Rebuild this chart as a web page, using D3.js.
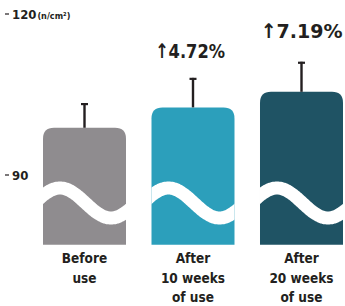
<!DOCTYPE html>
<html>
<head>
<meta charset="utf-8">
<script src="https://cdn.jsdelivr.net/npm/d3@7"></script>
<style>
  body { margin: 0; background: #fff; }
  text { font-family: "Liberation Sans Narrow", "DejaVu Sans Condensed", "Arial Narrow", sans-serif; font-weight: bold; fill: #231f20; }
</style>
</head>
<body>
<svg id="chart" width="345" height="306"></svg>
<script>
// chart values
const categories = ['before', 'week10', 'week20']
const labels = [['Before', 'use'], ['After', '10 weeks', 'of use'], ['After', '20 weeks', 'of use']]
const values = [98.8, 102.6, 105.5]
const errorTops = [103.4, 108.1, 111.1]
const increases = [null, '4.72%', '7.19%']
const colors = ['#8f8c8f', '#2c9fbb', '#1f5364']
const tickValues = [90, 120]
const baseValue = 77

const svg = d3.select('#chart')

const x = d3.scaleBand()
  .domain(categories)
  .range([43, 343])
  .paddingInner(0.235)
  .paddingOuter(0)

const y = d3.scaleLinear()
  .domain([90, 120])
  .range([175, 14])

// y axis ticks (only two)
const axis = svg.append('g')
tickValues.forEach(v => {
  axis.append('line')
    .attr('x1', 5).attr('x2', 9)
    .attr('y1', y(v)).attr('y2', y(v))
    .attr('stroke', '#231f20').attr('stroke-width', 1.2)
  const t = axis.append('text')
    .attr('x', 12).attr('y', y(v) + 4.5)
    .attr('font-size', 13)
    .text(v)
  if (v === 120) {
    t.append('tspan').attr('font-size', 9).attr('dx', 1).text('(n/cm²)')
  }
})

// bars with rounded top corners
function barPath (x0, w, top, bottom, r) {
  return `M${x0},${bottom} L${x0},${top + r} Q${x0},${top} ${x0 + r},${top} ` +
    `L${x0 + w - r},${top} Q${x0 + w},${top} ${x0 + w},${top + r} L${x0 + w},${bottom} Z`
}

const defs = svg.append('defs')

categories.forEach((c, i) => {
  const x0 = x(c)
  const w = x.bandwidth()
  const top = y(values[i])
  const bottom = y(baseValue)

  defs.append('clipPath').attr('id', 'clip' + i)
    .append('path').attr('d', barPath(x0, w, top, bottom, 11))

  svg.append('path')
    .attr('d', barPath(x0, w, top, bottom, 11))
    .attr('fill', colors[i])

  // wave (axis break)
  const pts = d3.range(-5, w + 6, 1).map(d => [x0 + d, 203 - 15 * Math.cos(2 * Math.PI * (d - 17) / 102)])
  svg.append('path')
    .attr('d', d3.line().curve(d3.curveBasis)(pts))
    .attr('fill', 'none')
    .attr('stroke', '#fff')
    .attr('stroke-width', 13)
    .attr('clip-path', `url(#clip${i})`)

  // error bar
  const cx = x0 + w / 2
  svg.append('line')
    .attr('x1', cx).attr('x2', cx)
    .attr('y1', top).attr('y2', y(errorTops[i]))
    .attr('stroke', '#231f20').attr('stroke-width', 2.4)
  svg.append('line')
    .attr('x1', cx - 3.5).attr('x2', cx + 3.5)
    .attr('y1', y(errorTops[i]) + 1).attr('y2', y(errorTops[i]) + 1)
    .attr('stroke', '#231f20').attr('stroke-width', 2.2)

  // increase label
  if (increases[i]) {
    svg.append('text')
      .attr('x', i === 1 ? cx - 3 : cx)
      .attr('y', i === 1 ? 58 : 38)
      .attr('text-anchor', 'middle')
      .attr('font-size', 20)
      .attr('textLength', i === 1 ? 70 : 82)
      .attr('lengthAdjust', 'spacingAndGlyphs')
      .text('↑' + increases[i])
  }

  // category label
  const lt = svg.append('text')
    .attr('text-anchor', 'middle')
    .attr('font-size', 13.5)
  labels[i].forEach((s, k) => {
    lt.append('tspan')
      .attr('x', cx)
      .attr('y', 263 + k * 19.5)
      .text(s)
  })
})
</script>
</body>
</html>
